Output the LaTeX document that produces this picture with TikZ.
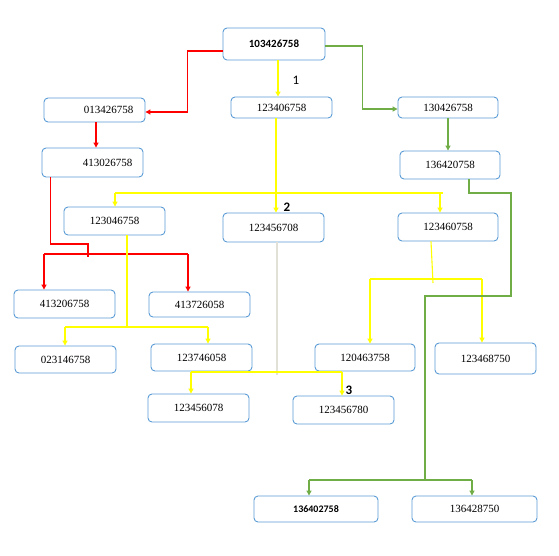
\documentclass[tikz,border=0pt]{standalone}
\usepackage{fontspec}
\setmainfont{Liberation Serif}
\newfontfamily\calfont{Carlito}
\definecolor{bbl}{RGB}{91,155,213}
\definecolor{rd}{RGB}{255,0,0}
\definecolor{yl}{RGB}{255,255,0}
\definecolor{gr}{RGB}{112,173,71}
\definecolor{lg}{RGB}{225,225,215}
\usepackage{tikz}
\usetikzlibrary{arrows.meta}

\begin{document}
\begin{tikzpicture}[x=1pt, y=-1pt, line width=1.1pt, inner sep=0pt,
  box/.style={draw=bbl, line width=0.9pt, rounded corners=4pt, minimum width=101pt, minimum height=28pt, font=\fontsize{11}{13}\selectfont},
  bold/.style={font=\calfont\bfseries\fontsize{11}{13}\selectfont},
  num/.style={font=\calfont\bfseries\fontsize{13}{15}\selectfont},
  arr/.style={-{Triangle[length=5pt,width=5pt]}}]

\useasboundingbox (0,0) rectangle (559,555);

  \node[box, bold, minimum width=102pt, minimum height=32pt] (A) at (274,44) {103426758};
  \node[box, minimum height=24pt] (B) at (94.5,110)   {\hspace*{28pt}013426758};
  \node[box, minimum height=21pt] (C) at (281.5,107.5) {123406758};
  \node[box, minimum width=100pt, minimum height=21pt] (D) at (448,107.5) {130426758};
  \node[box, minimum height=29pt] (E) at (92.5,162.5) {\hspace*{30pt}413026758};
  \node[box, minimum width=100pt] (F) at (450,165)   {136420758};
  \node[box] (G) at (114.5,221) {123046758};
  \node[box, minimum height=29pt] (H) at (273.5,227.5) {123456708};
  \node[box, minimum width=100pt] (I) at (448,227) {123460758};
  \node[box] (J) at (64.5,304)  {413206758};
  \node[box, minimum height=25pt] (K) at (199.5,304.5) {413726058};
  \node[box, minimum height=27pt] (L) at (65.5,359.5) {023146758};
  \node[box, minimum height=27pt] (M) at (201.5,357.5) {123746058};
  \node[box, minimum width=100pt, minimum height=27pt] (N) at (365,357.5) {120463758};
  \node[box, minimum height=31pt] (O) at (485.5,358.5) {123468750};
  \node[box] (P) at (198.5,408) {123456078};
  \node[box] (Q) at (343.5,410) {123456780};
  \node[box, bold, minimum width=124pt, minimum height=26pt, font=\calfont\bfseries\fontsize{10}{12}\selectfont] (R) at (316,509) {136402758};
  \node[box, minimum width=125pt, minimum height=26pt] (S) at (474.5,509) {136428750};

  \node[num, font=\calfont\fontsize{13}{15}\selectfont] (n1) at (296,80)  {1};
  \node[num] (n2) at (287,207) {2};
  \node[num] (n3) at (349,390) {3};

  % junctions
  \coordinate (rj)    at (88,244);
  \coordinate (rs)    at (88,257);
  \coordinate (rbarL) at (44,254);
  \coordinate (rbarR) at (188,254);
  \coordinate (ybarL) at (115,193);
  \coordinate (ybarR) at (443,193);
  \coordinate (ybarI) at (440,192);
  \coordinate (ygL)   at (65,327);
  \coordinate (ygR)   at (208,327);
  \coordinate (yhL)   at (191,372);
  \coordinate (yhR)   at (342,372);
  \coordinate (yhE)   at (277,375);
  \coordinate (yiB)   at (433,283);
  \coordinate (yiL)   at (370,279);
  \coordinate (yiR)   at (482,279);
  \coordinate (g1)    at (511,193);
  \coordinate (g2)    at (425,296);
  \coordinate (gbarL) at (309,480);
  \coordinate (gbarR) at (472,480);

  % red
  \draw[rd, arr] ([yshift=-7pt]A.west) -- ++(-35,0) |- ([yshift=-2pt]B.east);
  \draw[rd, arr] ([xshift=1.5pt]B.south) -- ([xshift=1.5pt]B.south |- E.north);
  \draw[rd] ([xshift=8.5pt]E.south west) |- (rj) -- (rs);
  \draw[rd] (rbarL) -- (rbarR);
  \draw[rd, arr] (rbarL) -- (rbarL |- J.north);
  \draw[rd, arr] (rbarR) -- (rbarR |- K.north);

  % yellow
  \draw[yl, arr] ([xshift=4pt]A.south) -- ([xshift=4pt]A.south |- C.north);
  \draw[yl, arr] ([xshift=-5.5pt]C.south) -- ([xshift=-5.5pt]C.south |- H.north);
  \draw[yl] (ybarL) -- (ybarR);
  \draw[yl, arr] (ybarL) -- (ybarL |- G.north);
  \draw[yl, arr] (ybarI) -- (ybarI |- I.north);
  \draw[yl] ([xshift=12.5pt]G.south) -- ([xshift=12.5pt]G.south |- ygL);
  \draw[yl] (ygL) -- (ygR);
  \draw[yl, arr] (ygL) -- (ygL |- L.north);
  \draw[yl, arr] (ygR) -- (ygR |- M.north);
  \draw[lg] ([xshift=3.5pt]H.south) -- (yhE);
  \draw[yl] (yhL) -- (yhR);
  \draw[yl, arr] (yhL) -- (yhL |- P.north);
  \draw[yl, arr] (yhR) -- (yhR |- Q.north);
  \draw[yl] ([xshift=-17pt]I.south) -- (yiB);
  \draw[yl] (yiL) -- (yiR);
  \draw[yl, arr] (yiL) -- (yiL |- N.north);
  \draw[yl, arr] (yiR) -- (yiR |- O.north);

  % green
  \draw[gr, arr] ([yshift=-2pt]A.east) -- ++(37,0) |- ([yshift=-1.5pt]D.west);
  \draw[gr, arr] (D.south) -- (D.south |- F.north);
  \draw[gr] ([xshift=19pt]F.south) |- (g1) |- (g2) -- (g2 |- gbarL);
  \draw[gr] (gbarL) -- (gbarR);
  \draw[gr, arr] (gbarL) -- (gbarL |- R.north);
  \draw[gr, arr] (gbarR) -- (gbarR |- S.north);

\end{tikzpicture}
\end{document}
